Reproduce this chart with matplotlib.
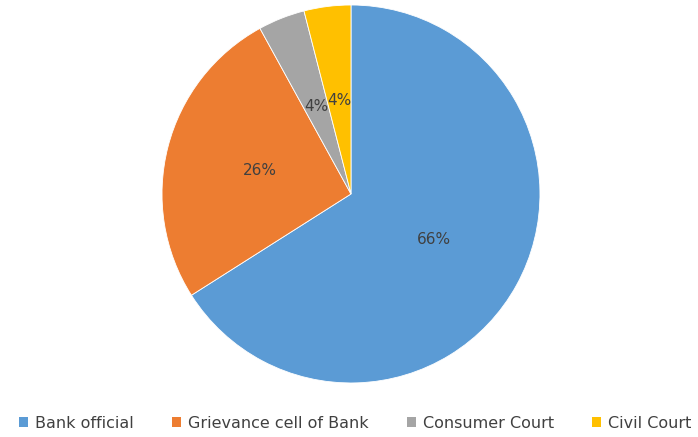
import matplotlib.pyplot as plt
from matplotlib.patches import Patch

# who customers complained to
channels = ["Bank official", "Grievance cell of Bank", "Consumer Court", "Civil Court"]
shares = [66, 26, 4, 4]
palette = ["#5B9BD5", "#ED7D31", "#A5A5A5", "#FFC000"]

fig = plt.figure(figsize=(6.98, 4.37), dpi=100)
ax = fig.add_axes([0.2321, 0.1236, 0.5415, 0.865])

wedges, _, pcts = ax.pie(shares, colors=palette, startangle=90, counterclock=False,
                         autopct="%d%%", pctdistance=0.5, radius=1.0,
                         wedgeprops=dict(edgecolor="white", linewidth=0.6),
                         textprops=dict(color="#404040", fontsize=11))
ax.set_xlim(-1, 1)
ax.set_ylim(-1, 1)
ax.set_aspect("equal")

handles = [Patch(facecolor=c, edgecolor="none") for c in palette]
fig.legend(handles, channels, loc="center", bbox_to_anchor=(0.509, 0.032), ncol=4,
           frameon=False, fontsize=11.5, handlelength=0.55, handleheight=0.55,
           handletextpad=0.45, columnspacing=2.4, labelcolor="#404040")

fig.savefig("out.png", dpi=100)
